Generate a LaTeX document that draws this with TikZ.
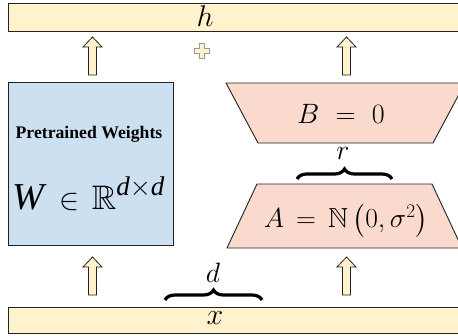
\RequirePackage{fix-cm}
\documentclass[tikz,border=0pt]{standalone}
\usepackage{amsmath,amssymb}
\DeclareFontFamily{U}{msb}{}
\DeclareFontShape{U}{msb}{m}{n}{<->msbm10}{}
\usepackage{fontspec}
\newfontfamily\tnr{Liberation Serif}
\usetikzlibrary{decorations.pathreplacing}
\definecolor{barY}{HTML}{FFF2CC}
\definecolor{boxB}{HTML}{CCE0F2}
\definecolor{trapP}{HTML}{FADACD}
\definecolor{edgeD}{HTML}{222222}
\tikzset{
  bar/.style={draw=edgeD, fill=barY, line width=0.9pt},
  wbox/.style={draw=edgeD, fill=boxB, line width=0.9pt},
  trap/.style={draw=edgeD, fill=trapP, line width=0.9pt},
  blockarrow/.style={draw=edgeD, fill=barY, line width=0.8pt, line join=miter},
  plusshape/.style={draw=gray!80, fill=barY, line width=0.8pt},
  bracestyle/.style={decorate, decoration={brace, amplitude=10pt}, line width=3.2pt},
  pics/uparrow/.style={code={
    \path[blockarrow] (-4,#1) -- (-4,10) -- (-9.5,10) -- (0,0) -- (9.5,10) -- (4,10) -- (4,#1) -- cycle;
  }}
}
\begin{document}
\begin{tikzpicture}[x=1pt,y=-1pt]
\useasboundingbox (0,0) rectangle (458,335);
\clip (0,0) rectangle (458,335);
% bars
\path[bar] (8,3) rectangle (470,31);
\node (h) at (205,16) {\fontsize{30}{32}\selectfont $h$};
\path[bar] (8,307) rectangle (470,333);
\node (x) at (215,318) {\fontsize{30}{32}\selectfont $x$};
% pretrained weights
\path[wbox] (8,82) rectangle (173,245);
\node (pw) at (89,134) {\tnr\bfseries\fontsize{17.7}{19}\selectfont Pretrained Weights};
\node[anchor=base west, inner sep=0pt] (w) at (12,209) {\tnr\itshape\fontsize{38}{40}\selectfont W\hspace{16pt}\fontsize{30}{32}\selectfont$\in$\hspace{12pt}\fontsize{34}{36}\selectfont$\mathbb{R}$\raisebox{14pt}{\fontsize{27}{29}\selectfont d$\times$d}};
% B trapezoid
\path[trap] (226,83) -- (465,83) -- (433,143) -- (258,143) -- cycle;
\node (b) at (341,114) {\fontsize{28}{30}\selectfont $B\ =\ 0$};
% A trapezoid
\path[trap] (257,184) -- (432,184) -- (462,248) -- (227,248) -- cycle;
\node (a) at (346,221) {\fontsize{27.5}{29}\selectfont $A\,=\,\mathbb{N}\left(0,\sigma^2\right)$};
% braces
\coordinate (r1) at (297,179);
\coordinate (r2) at (392,179);
\draw[bracestyle] (r1) -- (r2);
\node (r) at (343,153) {\fontsize{28}{30}\selectfont $r$};
\coordinate (d1) at (165,300);
\coordinate (d2) at (262,300);
\draw[bracestyle] (d1) -- (d2);
\node (d) at (213,273) {\fontsize{28}{30}\selectfont $d$};
% arrows
\pic at (92.5,37) {uparrow=38};
\pic at (346.5,37) {uparrow=38};
\pic at (92.5,257) {uparrow=38};
\pic at (346.5,257) {uparrow=38};
% plus
\path[plusshape] (199.5,43) -- (204.5,43) -- (204.5,48) -- (209.5,48) -- (209.5,53) -- (204.5,53) -- (204.5,58) -- (199.5,58) -- (199.5,53) -- (194.5,53) -- (194.5,48) -- (199.5,48) -- cycle;
\end{tikzpicture}
\end{document}
